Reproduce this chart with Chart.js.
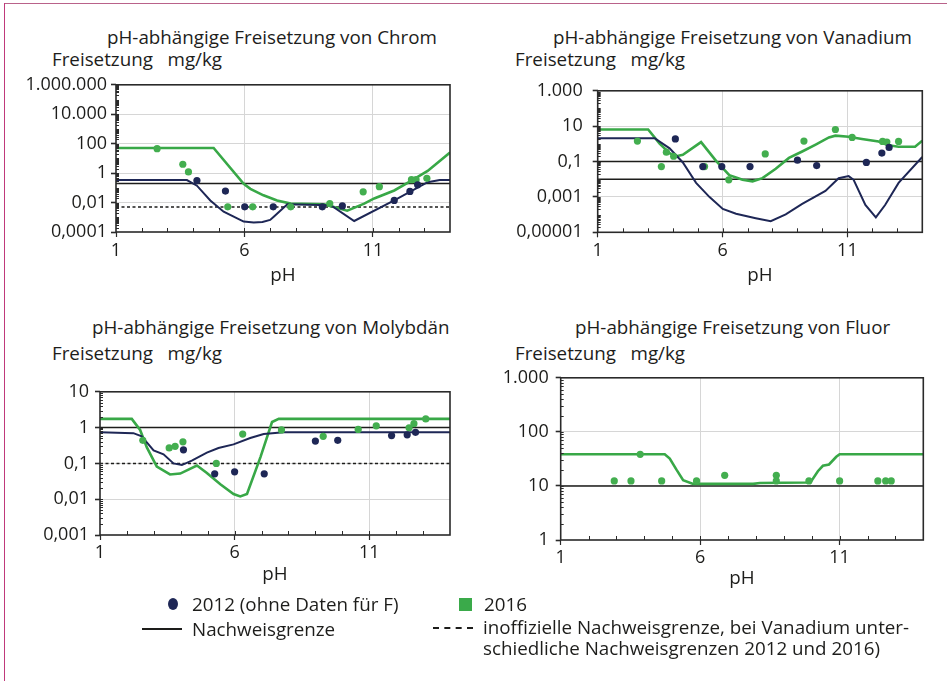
<!DOCTYPE html>
<html><head><meta charset="utf-8">
<script src="https://cdn.jsdelivr.net/npm/chart.js@4.4.1/dist/chart.umd.min.js"></script>
<style>
html,body{margin:0;padding:0;background:#fff;}
body{width:947px;height:681px;position:relative;overflow:hidden;font-family:"Open Sans",sans-serif;color:#1d1d1b;}
.frame-top{position:absolute;left:4px;top:3px;width:943px;height:0;border-top:1.5px solid #b9628a;}
.frame-left{position:absolute;left:4px;top:3px;width:0;height:678px;border-left:1.5px solid #c0397b;}
.t{position:absolute;white-space:pre;font-size:18.8px;line-height:22px;}
.lg{position:absolute;white-space:pre;font-size:18.8px;line-height:22px;}
canvas{position:absolute;}
</style></head><body>
<div class="frame-top"></div><div class="frame-left"></div>

<div class="t" style="left:107px;top:26px">pH-abhängige Freisetzung von Chrom</div>
<div class="t" style="left:52px;top:48px">Freisetzung   mg/kg</div>
<div class="t" style="left:553px;top:26px">pH-abhängige Freisetzung von Vanadium</div>
<div class="t" style="left:515px;top:48px">Freisetzung   mg/kg</div>
<div class="t" style="left:92px;top:316px">pH-abhängige Freisetzung von Molybdän</div>
<div class="t" style="left:52px;top:342px">Freisetzung   mg/kg</div>
<div class="t" style="left:575px;top:316px">pH-abhängige Freisetzung von Fluor</div>
<div class="t" style="left:515px;top:342px">Freisetzung   mg/kg</div>

<canvas id="c1" style="left:0px;top:70px" width="470" height="225"></canvas>
<canvas id="c2" style="left:470px;top:70px" width="477" height="225"></canvas>
<canvas id="c3" style="left:0px;top:375px" width="470" height="220"></canvas>
<canvas id="c4" style="left:470px;top:360px" width="477" height="235"></canvas>

<div style="position:absolute;left:168px;top:598px;width:10px;height:12px;border-radius:50%;background:#1e2756"></div>
<div class="lg" style="left:192px;top:593px">2012 (ohne Daten für F)</div>
<div style="position:absolute;left:459px;top:598px;width:12.5px;height:12.5px;background:#3aaa4a"></div>
<div class="lg" style="left:484px;top:593px">2016</div>
<div style="position:absolute;left:142px;top:628px;width:40px;height:0;border-top:2px solid #1d1d1b"></div>
<div class="lg" style="left:192px;top:618px">Nachweisgrenze</div>
<div style="position:absolute;left:433px;top:627px;width:40px;height:0;border-top:2px dashed #1d1d1b"></div>
<div class="lg" style="left:483px;top:616px">inoffizielle Nachweisgrenze, bei Vanadium unter-</div>
<div class="lg" style="left:483px;top:637px">schiedliche Nachweisgrenzen 2012 und 2016)</div>

<script>
// ---------- shared axis data ----------
const phMin = 1, phMax = 14;
const phTicks = [1, 6, 11];
const phTickLabels = ['1', '6', '11'];

// ---------- Chrom ----------
const crYTicks = [0.0001, 0.01, 1, 100, 10000, 1000000];
const crYLabels = ['0,0001', '0,01', '1', '100', '10.000', '1.000.000'];
const crLine2016Ph  = [1, 4.8, 5.97, 6.23, 6.74, 7.27, 7.8, 9.1, 10.0, 10.66, 11.05, 11.83, 12.5, 13.13, 14];
const crLine2016Val = [51, 51, 0.19, 0.085, 0.031, 0.014, 0.0085, 0.0077, 0.0028, 0.0085, 0.019, 0.066, 0.31, 1.4, 25];
const crLine2012Ph  = [1, 3.76, 4.15, 4.67, 5.19, 5.58, 5.97, 6.36, 6.7, 7.0, 7.14, 7.67, 9.36, 10.27, 11.83, 13.13, 13.6, 14];
const crLine2012Val = [0.34, 0.34, 0.14, 0.014, 0.0024, 0.0011, 0.00051, 0.00044, 0.00048, 0.00066, 0.0011, 0.0077, 0.0066, 0.00056, 0.014, 0.24, 0.34, 0.34];
const crDots2016Ph  = [2.6, 3.6, 3.82, 5.35, 6.32, 7.8, 9.32, 10.62, 11.25, 12.5, 12.68, 13.1];
const crDots2016Val = [46, 4.0, 1.2, 0.0051, 0.0051, 0.0051, 0.0085, 0.054, 0.12, 0.36, 0.36, 0.44];
const crDots2012Ph  = [4.15, 5.26, 6.01, 7.12, 9.03, 9.81, 11.83, 12.44, 12.74];
const crDots2012Val = [0.31, 0.06, 0.0051, 0.0051, 0.0051, 0.0059, 0.014, 0.057, 0.16];
const crLimits = [0.2];
const crLimitsUnofficial = [0.005];

// ---------- Vanadium ----------
const vYTicks = [0.00001, 0.001, 0.1, 10, 1000];
const vYLabels = ['0,00001', '0,001', '0,1', '10', '1.000'];
const vLine2016Ph  = [1, 3.02, 3.48, 3.88, 4.15, 4.41, 5.14, 5.74, 6.27, 6.8, 7.2, 7.6, 8.13, 8.66, 9.19, 9.73, 10.26, 10.52, 11.05, 11.58, 12.25, 12.65, 13.05, 13.71, 14];
const vLine2016Val = [6.5, 6.5, 1.03, 0.30, 0.20, 0.24, 1.26, 0.11, 0.017, 0.0093, 0.0076, 0.0115, 0.039, 0.16, 0.37, 0.91, 2.3, 2.9, 2.5, 1.9, 1.37, 0.83, 0.69, 0.69, 1.5];
const vLine2012Ph  = [1, 3.28, 3.88, 4.41, 4.94, 5.48, 6.01, 6.54, 7.33, 7.93, 8.53, 9.19, 10.12, 10.65, 11.05, 11.25, 11.72, 12.14, 12.51, 13.05, 14];
const vLine2012Val = [2.07, 2.07, 0.56, 0.089, 0.0062, 0.00098, 0.00021, 0.000112, 0.000063, 0.000042, 0.000103, 0.0004, 0.0022, 0.0115, 0.015, 0.0093, 0.00035, 0.000069, 0.00035, 0.0062, 0.18];
const vDots2016Ph  = [2.59, 3.55, 3.75, 4.04, 5.28, 6.25, 7.71, 9.26, 10.52, 11.19, 12.41, 12.58, 13.05];
const vDots2016Val = [1.43, 0.052, 0.34, 0.20, 0.052, 0.0093, 0.27, 1.43, 6.5, 2.3, 1.37, 1.27, 1.37];
const vDots2012Ph  = [4.11, 5.21, 5.97, 7.1, 9.0, 9.77, 11.76, 12.38, 12.67];
const vDots2012Val = [1.9, 0.052, 0.052, 0.052, 0.12, 0.059, 0.089, 0.30, 0.63];
const vLimits = [0.1, 0.01];
const vLimitsUnofficial = [];

// ---------- Molybdän ----------
const moYTicks = [0.001, 0.01, 0.1, 1, 10];
const moYLabels = ['0,001', '0,01', '0,1', '1', '10'];
const moLine2016Ph  = [1, 2.18, 2.49, 2.74, 3.11, 3.6, 3.98, 4.6, 4.97, 5.47, 5.96, 6.21, 6.46, 6.96, 7.39, 7.64, 14];
const moLine2016Val = [1.75, 1.75, 0.86, 0.28, 0.081, 0.049, 0.052, 0.087, 0.054, 0.026, 0.014, 0.012, 0.014, 0.15, 1.43, 1.75, 1.75];
const moLine2012Ph  = [1, 2.24, 2.55, 2.99, 3.36, 3.73, 4.04, 4.41, 4.97, 5.4, 5.96, 6.58, 7.08, 7.82, 14];
const moLine2012Val = [0.74, 0.7, 0.57, 0.23, 0.18, 0.1, 0.09, 0.12, 0.2, 0.27, 0.34, 0.51, 0.66, 0.74, 0.74];
const moDots2016Ph  = [2.59, 3.57, 3.79, 4.08, 5.32, 6.3, 7.74, 9.29, 10.59, 11.26, 12.48, 12.66, 13.1];
const moDots2016Val = [0.44, 0.27, 0.30, 0.40, 0.1, 0.66, 0.86, 0.57, 0.89, 1.12, 0.99, 1.29, 1.75];
const moDots2012Ph  = [4.1, 5.26, 6.0, 7.1, 9.0, 9.83, 11.83, 12.41, 12.72];
const moDots2012Val = [0.24, 0.051, 0.058, 0.051, 0.42, 0.44, 0.6, 0.63, 0.74];
const moLimits = [1];
const moLimitsUnofficial = [0.1];

// ---------- Fluor ----------
const fYTicks = [1, 10, 100, 1000];
const fYLabels = ['1', '10', '100', '1.000'];
const fLine2016Ph  = [1, 4.73, 4.91, 5.15, 5.39, 5.75, 6.1, 7.9, 8.14, 9.8, 9.99, 10.22, 10.4, 10.62, 10.88, 11, 14];
const fLine2016Val = [38.5, 38.5, 32, 20, 12.8, 10.9, 10.9, 10.9, 11.3, 11.6, 12.4, 18.7, 23.6, 24.9, 34.6, 38.5, 38.5];
const fDots2016Ph  = [2.92, 3.52, 3.85, 4.62, 5.87, 6.88, 8.73, 8.73, 9.9, 11, 12.37, 12.65, 12.85];
const fDots2016Val = [12.4, 12.4, 38.5, 12.4, 12.4, 15.7, 15.7, 12.4, 12.4, 12.4, 12.4, 12.4, 12.4];
const fLimits = [10];
const fLimitsUnofficial = [];

// ---------- styling ----------
const GREEN = '#38a847', GREEN_DOT = '#43ae4f', NAVY = '#1e2756', INK = '#1d1d1b';
const FONT = '"Open Sans", sans-serif';
const TICK_SIZE = 18, TITLE_SIZE = 18.8;

const zip = (xs, ys) => xs.map((x, i) => ({x: x, y: ys[i]}));

const framePlugin = {
  id: 'frame',
  afterDraw(chart) {
    const {ctx, chartArea: a, scales: {x, y}} = chart;
    ctx.save();
    ctx.strokeStyle = '#2a2a2a';
    ctx.lineWidth = 1;
    for (let p = phMin + 1; p < phMax; p++) {
      const px = Math.round(x.getPixelForValue(p)) + 0.5;
      ctx.beginPath(); ctx.moveTo(px, a.bottom); ctx.lineTo(px, a.bottom - 4); ctx.stroke();
    }
    const lo = Math.round(Math.log10(y.min)), hi = Math.round(Math.log10(y.max));
    for (let e = lo; e < hi; e++) {
      for (let m = 1; m <= 9; m++) {
        if (m === 1 && e === lo) continue;
        const py = Math.round(y.getPixelForValue(m * Math.pow(10, e))) + 0.5;
        ctx.beginPath(); ctx.moveTo(a.left, py); ctx.lineTo(a.left + 3, py); ctx.stroke();
      }
    }
    ctx.lineWidth = 1.6;
    ctx.strokeRect(a.left, a.top, a.right - a.left, a.bottom - a.top);
    ctx.restore();
  }
};

function makeChart(id, c) {
  const datasets = [];
  c.dots2012 && datasets.push({data: c.dots2012, showLine: false, pointRadius: 3.6, pointBorderWidth: 0, pointBackgroundColor: NAVY, order: 0});
  c.dots2016 && datasets.push({data: c.dots2016, showLine: false, pointRadius: 3.6, pointBorderWidth: 0, pointBackgroundColor: GREEN_DOT, order: 0});
  c.line2016 && datasets.push({data: c.line2016, showLine: true, borderColor: GREEN, borderWidth: 2.6, pointRadius: 0, tension: 0, order: 2});
  c.line2012 && datasets.push({data: c.line2012, showLine: true, borderColor: NAVY, borderWidth: 2, pointRadius: 0, tension: 0, order: 1});
  c.limits.forEach(v => datasets.push({data: [{x: phMin, y: v}, {x: phMax, y: v}], showLine: true, borderColor: INK, borderWidth: 1.5, pointRadius: 0, order: 3}));
  c.unofficial.forEach(v => datasets.push({data: [{x: phMin, y: v}, {x: phMax, y: v}], showLine: true, borderColor: INK, borderWidth: 1.5, borderDash: [3, 2.5], pointRadius: 0, order: 3}));

  new Chart(document.getElementById(id), {
    type: 'scatter',
    data: {datasets},
    plugins: [framePlugin],
    options: {
      responsive: false, animation: false,
      layout: {padding: {top: c.padTop, right: c.padRight, left: 0, bottom: 0}, autoPadding: false},
      plugins: {legend: {display: false}, tooltip: {enabled: false}},
      scales: {
        x: {
          type: 'linear', min: phMin, max: phMax,
          afterBuildTicks: s => { s.ticks = phTicks.map(v => ({value: v})); },
          afterFit: s => { s.height = c.xHeight; },
          ticks: {callback: (v, i) => phTickLabels[i], font: {family: FONT, size: TICK_SIZE}, color: INK, padding: c.xPad, maxRotation: 0, autoSkip: false},
          grid: {color: g => (g.tick && g.tick.value === phMin) ? 'rgba(0,0,0,0)' : '#d6d6d6', lineWidth: 1, tickLength: 5, tickColor: '#2a2a2a', tickWidth: 1.2},
          border: {display: false},
          title: {display: true, text: 'pH', font: {family: FONT, size: TITLE_SIZE}, color: INK, padding: {top: 0, bottom: c.titlePadBottom}}
        },
        y: {
          type: 'logarithmic', min: c.yTicks[0], max: c.yTicks[c.yTicks.length - 1],
          afterBuildTicks: s => { s.ticks = c.yTicks.map(v => ({value: v})); },
          afterFit: s => { s.width = c.yWidth; },
          ticks: {callback: (v, i) => c.yLabels[i], font: {family: FONT, size: TICK_SIZE}, color: INK, padding: c.yPad, autoSkip: false},
          grid: {color: g => (g.tick && g.tick.value === c.yTicks[0]) ? 'rgba(0,0,0,0)' : '#d6d6d6', lineWidth: 1, tickLength: 5, tickColor: '#2a2a2a', tickWidth: 1.6},
          border: {display: false}
        }
      }
    }
  });
}

makeChart('c1', {
  yTicks: crYTicks, yLabels: crYLabels,
  line2016: zip(crLine2016Ph, crLine2016Val), line2012: zip(crLine2012Ph, crLine2012Val),
  dots2016: zip(crDots2016Ph, crDots2016Val), dots2012: zip(crDots2012Ph, crDots2012Val),
  limits: crLimits, unofficial: crLimitsUnofficial,
  padTop: 12, padRight: 20, yWidth: 116, xHeight: 63, xPad: 3, yPad: 4, titlePadBottom: 8
});
makeChart('c2', {
  yTicks: vYTicks, yLabels: vYLabels,
  line2016: zip(vLine2016Ph, vLine2016Val), line2012: zip(vLine2012Ph, vLine2012Val),
  dots2016: zip(vDots2016Ph, vDots2016Val), dots2012: zip(vDots2012Ph, vDots2012Val),
  limits: vLimits, unofficial: vLimitsUnofficial,
  padTop: 12.3, padRight: 24.7, yWidth: 127.7, xHeight: 62.7, xPad: 3, yPad: 10, titlePadBottom: 8
});
makeChart('c3', {
  yTicks: moYTicks, yLabels: moYLabels,
  line2016: zip(moLine2016Ph, moLine2016Val), line2012: zip(moLine2012Ph, moLine2012Val),
  dots2016: zip(moDots2016Ph, moDots2016Val), dots2012: zip(moDots2012Ph, moDots2012Val),
  limits: moLimits, unofficial: moLimitsUnofficial,
  padTop: 10, padRight: 20, yWidth: 100, xHeight: 60, xPad: 2, yPad: 6, titlePadBottom: 9
});
makeChart('c4', {
  yTicks: fYTicks, yLabels: fYLabels,
  line2016: zip(fLine2016Ph, fLine2016Val), line2012: null,
  dots2016: zip(fDots2016Ph, fDots2016Val), dots2012: null,
  limits: fLimits, unofficial: fLimitsUnofficial,
  padTop: 11, padRight: 23.7, yWidth: 90.7, xHeight: 55, xPad: 2, yPad: 7, titlePadBottom: 5
});
</script>
</body></html>
